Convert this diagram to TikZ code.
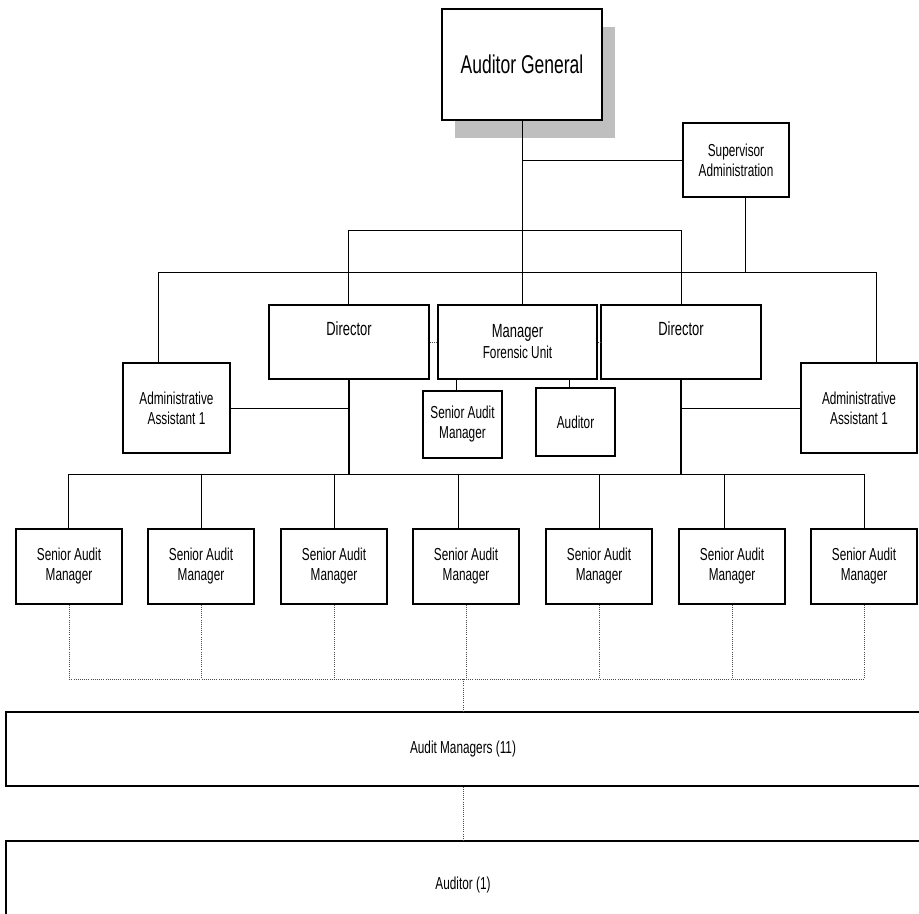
\documentclass[tikz,border=0pt]{standalone}
\usepackage{fontspec}
\setmainfont{Liberation Sans}[FakeStretch=0.68]
\begin{document}
\begin{tikzpicture}[x=0.75pt, y=-0.75pt, line width=0.75pt,
    main/.style = {draw, rectangle, line width=0.9pt, align=center, inner sep=1pt, font=\fontsize{13}{15}\selectfont},
    sam/.style = {main, minimum width=79.5pt, minimum height=56.25pt},
    adm/.style = {main, minimum height=67.5pt},
    head/.style = {main, minimum width=120pt, minimum height=55.5pt, font=\fontsize{13}{15.75}\selectfont},
    wide/.style = {main, minimum width=685.5pt},
    thickline/.style = {line width=1.3pt},
    dots/.style = {densely dotted, line width=0.6pt, black!70}]
            \useasboundingbox (0,0) rectangle (919,913);
            \fill[black!25] (455,27) rectangle (615,138);
            \node[main, fill=white, minimum width=120pt, minimum height=83.25pt, font=\fontsize{19.3}{23}\selectfont] (ag) at (522,64.5) {Auditor General};
            \node[main, minimum width=79.5pt, minimum height=55.5pt] (sup) at (736,160) {Supervisor\\Administration};

            \node[head] (dirL) at (349,342) {{\fontsize{14.3}{15.75}\selectfont Director}\\\strut};
            \node[head, minimum width=119.25pt] (mgr) at (517.5,342) {{\fontsize{14.3}{15.75}\selectfont Manager}\\Forensic Unit};
            \node[head] (dirR) at (681,342) {{\fontsize{14.3}{15.75}\selectfont Director}\\\strut};

            \node[adm, minimum width=80.25pt] (admL) at (176.5,408) {Administrative\\Assistant 1};
            \node[adm, minimum width=87pt] (admR) at (859,408) {Administrative\\Assistant 1};
            \node[main, minimum width=59.25pt, minimum height=50.25pt] (samF) at (462.5,424.5) {Senior Audit\\Manager};
            \node[main, minimum width=59.25pt, minimum height=51pt] (audF) at (575.5,422) {Auditor};

            \node[sam] (sam1) at (69,566.5) {Senior Audit\\Manager};
            \node[sam] (sam2) at (201,566.5) {Senior Audit\\Manager};
            \node[sam] (sam3) at (334,566.5) {Senior Audit\\Manager};
            \node[sam] (sam4) at (466,566.5) {Senior Audit\\Manager};
            \node[sam] (sam5) at (599,566.5) {Senior Audit\\Manager};
            \node[sam] (sam6) at (732,566.5) {Senior Audit\\Manager};
            \node[sam] (sam7) at (864,566.5) {Senior Audit\\Manager};

            \node[wide, minimum height=55.5pt] (am) at (463,749) {Audit Managers (11)};
            \node[wide, minimum height=66pt] (aud) at (463,885) {Auditor (1)};

            \coordinate (busT) at (348,230);
            \coordinate (busTr) at (681,230);
            \coordinate (busL) at (158,272);
            \coordinate (busR) at (876,272);
            \coordinate (supL) at (745,272);
            \coordinate (busB) at (68,474);
            \coordinate (busBr) at (864,474);
            \coordinate (b4) at (458,474);
            \coordinate (b6) at (724,474);
            \coordinate (dbus) at (68,679);

            \draw (ag.south) -- (ag.south |- mgr.north);
            \draw (ag.south |- sup.west) -- (sup.west);
            \draw (sup.south -| supL) -- (supL);
            \draw (busT) -- (busTr);
            \draw (busT) -- (busT |- dirL.north);
            \draw (busTr) -- (busTr |- dirR.north);
            \draw (busL) -- (busR);
            \draw (busL) -- (busL |- admL.north);
            \draw (busR) -- (busR |- admR.north);

            \draw[dots] (dirL.east) -- (mgr.west);
            \draw[dots] (mgr.east) -- (dirR.west);
            \draw (samF.north -| 456,0) -- (mgr.south -| 456,0);
            \draw (audF.north -| 569,0) -- (mgr.south -| 569,0);

            \draw[thickline] (dirL.south) -- (dirL.south |- busB);
            \draw (admL.east) -- (admL.east -| dirL.south);
            \draw[thickline] (dirR.south) -- (dirR.south |- busB);
            \draw (dirR.south |- admR.west) -- (admR.west);

            \draw (busB) -- (busBr);
            \draw (busB) -- (busB |- sam1.north);
            \draw (sam2.north |- busB) -- (sam2.north);
            \draw (sam3.north |- busB) -- (sam3.north);
            \draw (b4) -- (b4 |- sam4.north);
            \draw (sam5.north |- busB) -- (sam5.north);
            \draw (b6) -- (b6 |- sam6.north);
            \draw (busBr) -- (busBr |- sam7.north);

            \draw[dots] (sam1.south) -- (sam1.south |- dbus) -- (sam7.south |- dbus) -- (sam7.south);
            \draw[dots] (sam2.south) -- (sam2.south |- dbus);
            \draw[dots] (sam3.south) -- (sam3.south |- dbus);
            \draw[dots] (sam4.south) -- (sam4.south |- dbus);
            \draw[dots] (sam5.south) -- (sam5.south |- dbus);
            \draw[dots] (sam6.south) -- (sam6.south |- dbus);
            \draw[dots] (am.north |- dbus) -- (am.north);
            \draw[dots] (am.south) -- (aud.north);
\end{tikzpicture}
\end{document}
